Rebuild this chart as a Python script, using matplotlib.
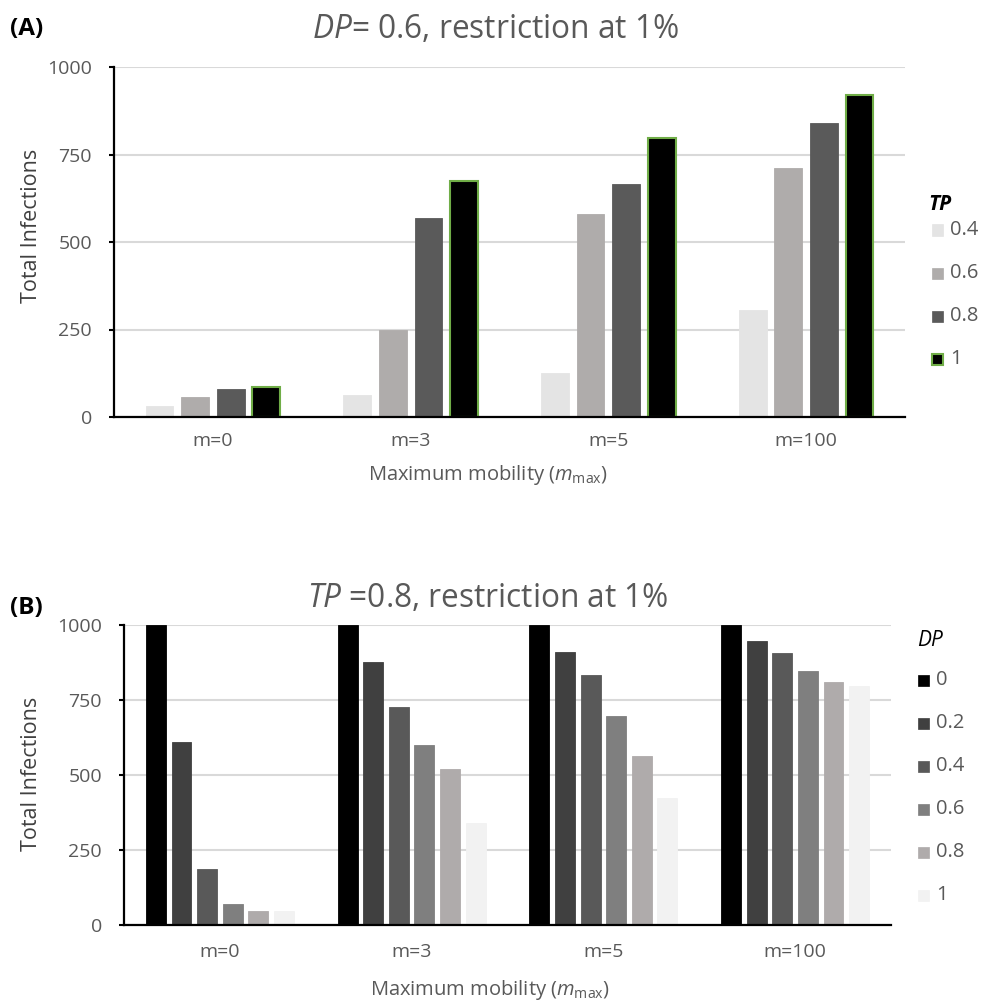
import matplotlib
matplotlib.use("Agg")
import matplotlib.pyplot as plt
import numpy as np
from matplotlib.patches import Rectangle

plt.rcParams['font.family'] = ['Open Sans', 'DejaVu Sans']
plt.rcParams['mathtext.fontset'] = 'custom'
plt.rcParams['mathtext.rm'] = 'Open Sans'
plt.rcParams['mathtext.it'] = 'Open Sans:italic'
plt.rcParams['mathtext.bf'] = 'Open Sans:bold'

# ---- data ----
categories = ["m=0", "m=3", "m=5", "m=100"]

tp_levels = ["0.4", "0.6", "0.8", "1"]
tp_values = {
    "0.4": [31, 63, 126, 305],
    "0.6": [58, 249, 580, 711],
    "0.8": [81, 569, 667, 840],
    "1":   [86, 674, 798, 921],
}
tp_colors = ["#E4E4E4", "#AFACAB", "#5A5A5A", "#000000"]
tp_edges = ["#E4E4E4", "#AFACAB", "#5A5A5A", "#70AD47"]

dp_levels = ["0", "0.2", "0.4", "0.6", "0.8", "1"]
dp_values = {
    "0":   [1000, 1000, 1000, 1000],
    "0.2": [611, 878, 909, 946],
    "0.4": [187, 726, 832, 906],
    "0.6": [69, 599, 697, 846],
    "0.8": [48, 519, 564, 809],
    "1":   [47, 339, 424, 797],
}
dp_colors = ["#000000", "#404040", "#595959", "#7F7F7F", "#AFABAB", "#F2F2F2"]

yticks = [0, 250, 500, 750, 1000]

TXT = "#595959"
W, H = 982, 1007
fig = plt.figure(figsize=(W / 100, H / 100), dpi=100)

def fx(px):
    return px / W

def fy(py):
    return 1 - py / H

def style_axes(ax, xpad):
    ax.set_xlim(0, len(categories))
    ax.set_ylim(0, 1000)
    ax.set_yticks(yticks)
    ax.set_yticklabels([str(t) for t in yticks])
    ax.set_xticks(np.arange(len(categories)) + 0.5)
    ax.set_xticklabels(categories)
    ax.tick_params(axis='x', length=0, pad=xpad, labelsize=14, labelcolor=TXT)
    ax.tick_params(axis='y', length=3.8, width=1.5, color='black', direction='out',
                   pad=12, labelsize=14, labelcolor=TXT)
    for s in ['top', 'right']:
        ax.spines[s].set_visible(False)
    for s in ['left', 'bottom']:
        ax.spines[s].set_color('black')
        ax.spines[s].set_linewidth(1.6)
        ax.spines[s].set_zorder(4)
    ax.grid(axis='y', color='#D9D9D9', linewidth=1.5)
    ax.set_axisbelow(True)

def legend(title, title_kw, levels, faces, edges, lws, title_xy, sq_x, txt_x, y0, dy):
    fig.text(fx(title_xy[0]), fy(title_xy[1]), title, fontsize=15, color='black',
             ha='left', va='center', **title_kw)
    s = 11
    for i, lvl in enumerate(levels):
        yc = y0 + i * dy
        fig.add_artist(Rectangle((fx(sq_x), fy(yc + s / 2)), s / W, s / H,
                                 transform=fig.transFigure, facecolor=faces[i],
                                 edgecolor=edges[i], linewidth=lws[i]))
        fig.text(fx(txt_x), fy(yc), lvl, fontsize=14.5, color=TXT,
                 ha='left', va='center')

xlabel = r"Maximum mobility ($\mathit{m}_{\mathrm{max}}$)"

# ---- Panel A ----
axA = fig.add_axes([fx(114), fy(417), 791 / W, 350 / H])
x = np.arange(len(categories)) + 0.5
n = len(tp_levels)
step, bw = 0.18, 0.14
for i, lvl in enumerate(tp_levels):
    off = (i - (n - 1) / 2) * step
    axA.bar(x + off, tp_values[lvl], width=bw, color=tp_colors[i],
            edgecolor=tp_edges[i], linewidth=1.5 if lvl == "1" else 0.6,
            label=lvl, zorder=3)
style_axes(axA, 11)

fig.text(fx(32), fy(226), "Total Infections", rotation=90, fontsize=15.5,
         color='#404040', ha='center', va='center')
fig.text(fx(488), fy(475), xlabel, fontsize=14.5, color=TXT, ha='center', va='center')
legend("TP", dict(fontstyle='italic', fontweight='bold'), tp_levels, tp_colors,
       tp_edges, [1.5 if l == "1" else 0.5 for l in tp_levels],
       (928, 204), 932, 950, 230, 43)

fig.text(fx(312), fy(38), r"$\mathit{DP}$= 0.6, restriction at 1%",
         fontsize=22.8, color=TXT, ha='left', va='baseline')
fig.text(fx(10), fy(29), "(A)", fontsize=17.5, fontweight='bold',
         color='black', ha='left', va='center')

# ---- Panel B ----
axB = fig.add_axes([fx(124), fy(925), 767 / W, 300 / H])
n = len(dp_levels)
step, bw = 0.1335, 0.104
for i, lvl in enumerate(dp_levels):
    off = (i - (n - 1) / 2) * step
    axB.bar(x + off, dp_values[lvl], width=bw, color=dp_colors[i],
            edgecolor=dp_colors[i], linewidth=0.6, label=lvl, zorder=3)
style_axes(axB, 13)

fig.text(fx(32), fy(774), "Total Infections", rotation=90, fontsize=15.5,
         color='#404040', ha='center', va='center')
fig.text(fx(490), fy(990), xlabel, fontsize=14.5, color=TXT, ha='center', va='center')
legend("DP", dict(fontstyle='italic'), dp_levels, dp_colors, dp_colors,
       [0.5] * len(dp_levels), (917, 640), 918, 936, 680, 43)

fig.text(fx(307), fy(607), r"$\mathit{TP}$ =0.8, restriction at 1%",
         fontsize=22.8, color=TXT, ha='left', va='baseline')
fig.text(fx(10), fy(608), "(B)", fontsize=17.5, fontweight='bold',
         color='black', ha='left', va='center')

fig.savefig("out.png", dpi=100)
